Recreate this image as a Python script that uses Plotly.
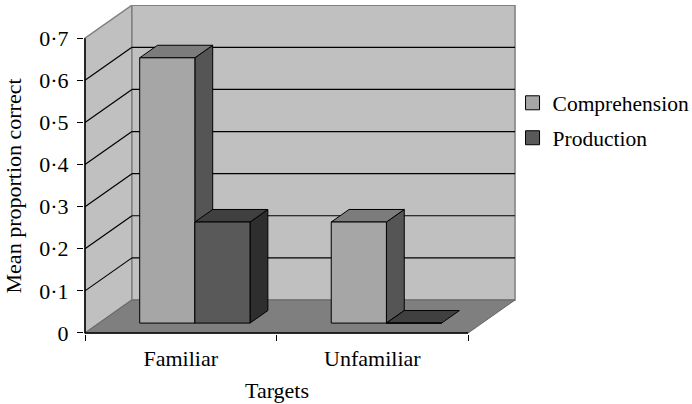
import plotly.graph_objects as go

categories = ["Familiar", "Unfamiliar"]
comprehension = [0.63, 0.24]
production = [0.24, 0.0]
y_ticks = [0, 0.1, 0.2, 0.3, 0.4, 0.5, 0.6, 0.7]
y_labels = ["0", "0·1", "0·2", "0·3", "0·4", "0·5", "0·6", "0·7"]

FONT = "Liberation Serif"
# oblique projection: one unit of depth, in axis units
DX, DY = 0.245, 0.0784
D0, D1 = 0.30, 0.68     # bar depth span
BW = 0.288              # bar width in category units
XMAX, YMAX, YTOP = 2.0, 0.7, 0.7789
XR = 2.25
XMIN, YMIN = -0.0052, -0.0024


def P(x, y, d=0.0):
    return x + d * DX, y + d * DY


def poly(pts, fill, line="black", width=1.0):
    path = "M " + " L ".join(f"{x:.4f},{y:.4f}" for x, y in pts) + " Z"
    return dict(type="path", xref="x", yref="y", layer="below", path=path,
                fillcolor=fill, line=dict(color=line, width=width))


def seg(a, b, color="black", width=1.2):
    return dict(type="line", xref="x", yref="y", layer="below",
                x0=a[0], y0=a[1], x1=b[0], y1=b[1],
                line=dict(color=color, width=width))


shapes = [
    poly([P(0, 0), P(0, YMAX), P(0, YMAX, 1), P(0, 0, 1)], "#c0c0c0", "#808080", 1.5),
    poly([P(0, 0, 1), P(0, YMAX, 1), P(XMAX, YMAX, 1), P(XMAX, 0, 1)], "#c0c0c0", "#808080", 1.5),
    poly([P(0, 0), P(0, 0, 1), P(XMAX, 0, 1), P(XMAX, 0)], "#7f7f7f", "#666666", 1.0),
]
for v in y_ticks[1:-1]:
    shapes.append(seg(P(0, v), P(0, v, 1)))
    shapes.append(seg(P(0, v, 1), P(XMAX, v, 1)))


def faces(x_left, value, side, top):
    xr = x_left + BW
    out = []
    if value > 0:
        out.append(poly([P(xr, 0, D0), P(xr, value, D0), P(xr, value, D1), P(xr, 0, D1)], side))
    out.append(poly([P(x_left, value, D0), P(xr, value, D0), P(xr, value, D1), P(x_left, value, D1)], top))
    return out


bar_x = {"c": [], "p": []}
for i in range(len(categories)):
    centre = i + 0.5
    shapes += faces(centre - BW, comprehension[i], "#555555", "#7c7c7c")
    shapes += faces(centre, production[i], "#2e2e2e", "#404040")
    bar_x["c"].append(P(centre - BW / 2, 0, D0)[0])
    bar_x["p"].append(P(centre + BW / 2, 0, D0)[0])

base = P(0, 0, D0)[1]
line_black = dict(color="black", width=1)

fig = go.Figure()
fig.add_bar(x=bar_x["c"], y=comprehension, base=base, width=BW, showlegend=False,
            marker=dict(color="#a6a6a6", line=line_black), hoverinfo="skip")
fig.add_bar(x=bar_x["p"], y=production, base=base, width=BW, showlegend=False,
            marker=dict(color="#595959", line=line_black), hoverinfo="skip")
# legend keys
for name, col in [("Comprehension", "#a6a6a6"), ("Production", "#595959")]:
    fig.add_scatter(x=[None], y=[None], mode="markers", name=name, legendgroup=name,
                    marker=dict(symbol="square", size=14, color=col,
                                line=dict(color="black", width=1)))

# front axes
axis_shapes = [
    dict(type="line", xref="x", yref="y", x0=0, y0=0, x1=0, y1=YMAX, line=dict(color="black", width=1.5)),
    dict(type="line", xref="x", yref="y", x0=0, y0=0, x1=XMAX, y1=0, line=dict(color="black", width=1.5)),
]

fig.update_layout(
    width=692, height=404, autosize=False,
    margin=dict(l=83.5, r=175.5, t=5, b=70, pad=0, autoexpand=False),
    paper_bgcolor="white", plot_bgcolor="white",
    font=dict(family=FONT, size=22, color="black"),
    barmode="overlay",
    shapes=shapes + axis_shapes,
    legend=dict(x=0.992, xanchor="left", y=0.765, yanchor="top", bgcolor="rgba(0,0,0,0)",
                font=dict(family=FONT, size=21.5), itemwidth=30, tracegroupgap=4,
                traceorder="grouped"),
    annotations=[
        dict(text="Targets", xref="x", yref="paper", x=1.0, y=-0.1714, showarrow=False,
             xanchor="center", yanchor="middle", font=dict(family=FONT, size=22)),
        dict(text="Mean proportion correct", xref="paper", yref="y", x=-0.1624, y=YMAX / 2,
             textangle=-90, showarrow=False, xanchor="center", yanchor="middle",
             font=dict(family=FONT, size=22)),
    ],
)
fig.update_xaxes(range=[XMIN, XR], tickmode="array", tickvals=[0.5, 1.5], ticktext=categories,
                 ticks="", showgrid=False, zeroline=False, showline=False, ticklabelstandoff=9,
                 minor=dict(tickmode="array", tickvals=[0, 1, 2], ticks="outside", ticklen=6,
                            tickcolor="black", tickwidth=1, showgrid=False))
fig.update_yaxes(range=[YMIN, YTOP], tickmode="array", tickvals=y_ticks, ticktext=y_labels,
                 ticks="outside", ticklen=6, tickcolor="black", tickwidth=1, ticklabelstandoff=4,
                 showgrid=False, zeroline=False, showline=False)

fig.write_html("out.html", config={"displayModeBar": False},
               post_script="document.body.style.margin='0';document.documentElement.style.overflow='hidden';")
